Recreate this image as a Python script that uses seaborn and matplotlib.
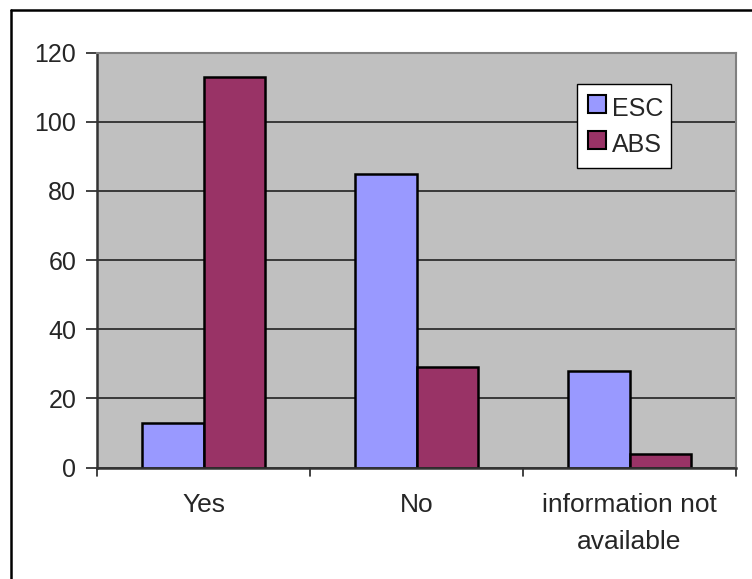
import matplotlib
matplotlib.use("Agg")
import matplotlib.pyplot as plt
import seaborn as sns
import pandas as pd
from matplotlib.lines import Line2D

categories = ["Yes", "No", "information not\navailable"]
series_names = ["ESC", "ABS"]
esc_values = [13, 85, 28]
abs_values = [113, 29, 4]
y_ticks = [0, 20, 40, 60, 80, 100, 120]

colors = {"ESC": "#9999FF", "ABS": "#993366"}

df = pd.DataFrame({
    "category": categories * 2,
    "series": ["ESC"] * len(categories) + ["ABS"] * len(categories),
    "value": esc_values + abs_values,
})

sns.set_theme(style="white")
plt.rcParams["font.family"] = ["Liberation Sans", "DejaVu Sans"]

W, H = 752, 579
fig = plt.figure(figsize=(W / 100, H / 100), dpi=100)
fig.patch.set_facecolor("white")

left, right, top, bottom = 97, 736, 52.7, 467.5
ax = fig.add_axes([left / W, 1 - bottom / H, (right - left) / W, (bottom - top) / H])
ax.set_facecolor("#C0C0C0")

sns.barplot(data=df, x="category", y="value", hue="series", order=categories,
            hue_order=series_names, palette=colors, width=0.58, gap=0,
            edgecolor="black", linewidth=1.8, saturation=1, ax=ax, legend=False)

ax.set_ylim(0, 120)
ax.set_xlim(-0.5, 2.5)
ax.set_yticks(y_ticks)
ax.set_yticklabels([str(t) for t in y_ticks], fontsize=18)
ax.set_xlabel("")
ax.set_ylabel("")
ax.tick_params(axis="x", length=0, labelsize=19, pad=18)
ax.tick_params(axis="y", length=8, width=1.2, color="#222222", pad=7, left=True)
ax.set_axisbelow(True)
ax.yaxis.grid(True, color="#222222", linewidth=1.2)
ax.xaxis.grid(False)
for lbl in ax.get_xticklabels():
    lbl.set_linespacing(1.7)

# category boundary ticks below the axis
for xb in [-0.5, 0.5, 1.5, 2.5]:
    ax.plot([xb, xb], [0, -0.02], transform=ax.get_xaxis_transform(),
            color="#222222", lw=1.2, clip_on=False)

for side in ["top", "right"]:
    ax.spines[side].set_color("#808080")
    ax.spines[side].set_linewidth(1.5)
ax.spines["left"].set_color("#333333")
ax.spines["left"].set_linewidth(1.8)
ax.spines["bottom"].set_color("#333333")
ax.spines["bottom"].set_linewidth(1.8)

handles = [Line2D([0], [0], marker="s", linestyle="none", markersize=13,
                  markerfacecolor=colors[s], markeredgecolor="black",
                  markeredgewidth=1.5) for s in series_names]
leg = ax.legend(handles, series_names, loc="upper left",
                bbox_to_anchor=((576.7 - left) / (right - left), 1 - (84.3 - top) / (bottom - top)),
                fontsize=18, frameon=True, fancybox=False, borderpad=0.3,
                handletextpad=0.1, handlelength=1.0, handleheight=1.65,
                labelspacing=0.1, borderaxespad=0)
leg.get_frame().set_edgecolor("black")
leg.get_frame().set_linewidth(1.0)
leg.get_frame().set_facecolor("white")
leg.get_frame().set_alpha(1)

# chart border along the top and left edges
fig.add_artist(Line2D([10.7 / W, 10.7 / W], [0, 1 - 10 / H], transform=fig.transFigure,
                      color="black", lw=1.8))
fig.add_artist(Line2D([10.7 / W, 1], [1 - 10 / H, 1 - 10 / H], transform=fig.transFigure,
                      color="black", lw=1.8))

fig.savefig("out.png", dpi=100)
